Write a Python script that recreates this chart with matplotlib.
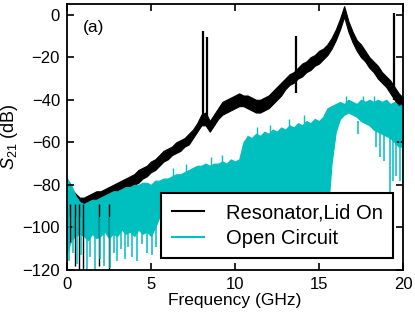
import numpy as np
import matplotlib
matplotlib.use("Agg")
import matplotlib.pyplot as plt
from matplotlib.lines import Line2D

plt.rcParams['font.family'] = 'Liberation Sans'
plt.rcParams['mathtext.fontset'] = 'custom'
plt.rcParams['mathtext.rm'] = 'Liberation Sans'
plt.rcParams['mathtext.it'] = 'Liberation Sans:italic'

# frequency grid of the envelopes (GHz), 0.25 GHz steps
freq = np.linspace(0, 20, 81)

# Resonator, lid on: upper / lower edge of the noisy trace (dB), 8 values per 2 GHz
black_hi = [-80, -82, -84, -86, -86, -85, -84, -83,
            -83, -82, -81, -80, -79, -78, -77, -76,
            -75, -73, -72, -71, -69, -68, -66, -64,
            -63, -62, -60, -59, -58, -56, -54, -51,
            -47, -46, -50, -47, -44, -41, -40, -39,
            -38, -37, -38, -38, -39, -40, -40, -39,
            -38, -36, -34, -32, -30, -28, -27, -25,
            -23, -22, -20, -19, -17, -16, -14, -11,
            -7, -2, 4, -3, -8, -12, -14, -17,
            -20, -22, -24, -27, -29, -31, -34, -37,
            -39]
black_lo = [-88, -89, -91, -92, -92, -91, -90, -89,
            -88, -87, -87, -86, -85, -84, -82, -81,
            -80, -79, -77, -76, -74, -73, -71, -69,
            -68, -66, -65, -64, -62, -61, -58, -55,
            -52, -52, -55, -52, -49, -47, -46, -45,
            -44, -43, -43, -44, -45, -46, -46, -45,
            -44, -42, -40, -38, -35, -33, -32, -30,
            -29, -27, -26, -24, -23, -21, -19, -16,
            -12, -7, -1, -8, -13, -17, -20, -22,
            -25, -27, -30, -32, -34, -37, -40, -43,
            -45]

# narrow resonances of the black trace
peak_f = [8.08, 8.32, 13.61, 19.48]
peak_top = [-7.5, -10.5, -10, 1]
peak_base = [-52, -52, -37, -40]

# deep drops of the black trace at low frequency
black_dip_f = [0.18, 0.48, 0.71, 0.93, 1.89, 2.5]
black_dip_lo = [-107, -118, -120, -120, -118, -120]

# Open circuit: upper / lower edge (dB), 8 values per 2 GHz
cyan_hi = [-77, -80, -85, -88, -89, -88, -87, -87,
           -86, -85, -84, -83, -83, -82, -81, -81,
           -80, -80, -79, -79, -80, -78, -78, -77,
           -77, -76, -75, -75, -74, -73, -72, -71,
           -71, -70, -71, -70, -70, -69, -70, -68,
           -69, -68, -60, -57, -58, -56, -57, -55,
           -56, -54, -55, -53, -54, -52, -53, -51,
           -52, -50, -51, -49, -50, -48, -44, -43,
           -42, -41, -42, -40, -41, -42, -40, -41,
           -40, -41, -40, -41, -40, -42, -41, -43,
           -42]
cyan_lo = [-112, -106, -104, -103, -104, -106, -103, -105,
           -104, -102, -105, -103, -104, -101, -103, -102,
           -104, -101, -103, -102, -104, -100, -95, -95,
           -95, -95, -95, -95, -95, -95, -95, -95,
           -95, -95, -95, -95, -95, -95, -95, -95,
           -95, -95, -95, -95, -95, -95, -95, -95,
           -95, -95, -95, -95, -95, -95, -95, -95,
           -95, -95, -95, -95, -95, -95, -95, -70,
           -55, -49, -47, -46, -47, -48, -50, -51,
           -52, -54, -55, -56, -57, -58, -60, -62,
           -62]

# deep drops and sharp tops of the open-circuit trace
cyan_dip_f = [0.1, 0.35, 0.6, 0.85, 1.18, 1.4, 1.67, 1.95, 2.2, 2.56, 2.8, 2.97, 3.2, 3.45,
              3.65, 3.87, 4.15, 4.45, 4.76, 5.05, 5.3]
cyan_dip_lo = [-116, -112, -117, -113, -120, -114, -120, -115, -118, -119, -112, -116, -110,
               -115, -109, -114, -116, -108, -112, -113, -109]
cyan_dip2_f = [15.65, 17.3, 18.4, 18.63, 18.9, 19.2, 19.4, 19.6, 19.8]
cyan_dip2_lo = [-62, -56, -62, -67, -69, -84, -78, -76, -78]
cyan_top_f = [6.3, 7.1, 8.6, 9.2, 11.3, 12.1, 13.2, 14.1, 16.6, 17.6, 18.3]
cyan_top_hi = [-72, -70, -67, -66, -53, -52, -49, -47, -38, -38, -38]
cyan_top_lo = [-76, -74, -71, -70, -57, -56, -53, -51, -42, -42, -42]

labels = ['Resonator,Lid On', 'Open Circuit']
cyan = '#00bfbf'

fig = plt.figure(figsize=(4.15, 3.12), dpi=100)
ax = fig.add_axes([0.1614, 0.1346, 0.8096, 0.8526])

ax.fill_between(freq, black_lo, black_hi, color='black', lw=0.8)
ax.vlines(black_dip_f, black_dip_lo, -89, color='black', lw=1.0)
ax.vlines(peak_f, peak_base, peak_top, color='black', lw=1.6)

ax.fill_between(freq, cyan_lo, cyan_hi, color=cyan, lw=0.8)
ax.vlines(cyan_dip_f, cyan_dip_lo, -95, color=cyan, lw=1.1)
ax.vlines(cyan_dip2_f, cyan_dip2_lo, -50, color=cyan, lw=1.1)
ax.vlines(cyan_top_f, cyan_top_lo, cyan_top_hi, color=cyan, lw=1.0)

ax.set_xlim(0, 20)
ax.set_ylim(-120, 5)
ax.set_xticks([0, 5, 10, 15, 20])
ax.set_yticks([0, -20, -40, -60, -80, -100, -120])
ax.tick_params(direction='in', top=True, right=True, length=5, width=1.2,
               labelsize=12, pad=5)
for s in ax.spines.values():
    s.set_linewidth(1.3)

ax.set_xlabel('Frequency (GHz)', fontsize=12.5, labelpad=1)
ax.set_ylabel(r'$S_{21}$ (dB)', fontsize=13, labelpad=2)
ax.text(0.048, 0.91, '(a)', transform=ax.transAxes, fontsize=12.5, va='center')

handles = [Line2D([], [], color='black', lw=1.5), Line2D([], [], color=cyan, lw=1.5)]
leg = ax.legend(handles, labels, loc='upper right', bbox_to_anchor=(0.970, 0.289),
                fontsize=14.5, handlelength=1.6, handletextpad=1.1, borderpad=0.5,
                labelspacing=0.35, borderaxespad=0, fancybox=False, framealpha=1,
                edgecolor='black')
leg.get_frame().set_linewidth(1.5)

fig.savefig('out.png', dpi=100)
